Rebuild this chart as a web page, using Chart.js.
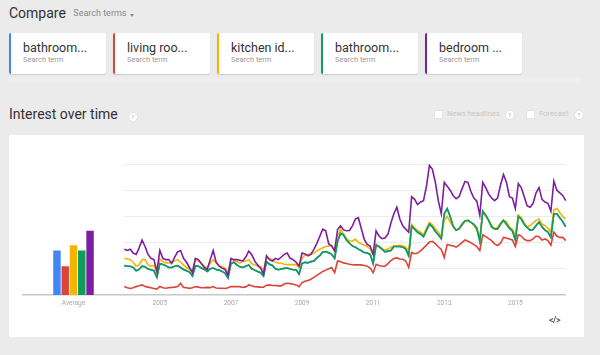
<!DOCTYPE html>
<html>
<head>
<meta charset="utf-8">
<script src="https://cdn.jsdelivr.net/npm/chart.js@4.4.1/dist/chart.umd.min.js"></script>
<style>
html,body{margin:0;padding:0;}
body{width:600px;height:355px;background:#ebebeb;position:relative;overflow:hidden;font-family:Roboto,"Liberation Sans",Arial,sans-serif;}
.abs{position:absolute;white-space:nowrap;line-height:1;}
.card{position:absolute;top:33px;width:95px;height:41px;background:#fff;border-left:2px solid #000;border-radius:2px;box-shadow:0 1px 1px rgba(0,0,0,0.13);}
.card .t{position:absolute;left:12px;top:8.5px;font-size:12.5px;color:#333;line-height:1;}
.card .s{position:absolute;left:12px;top:22.7px;font-size:7.5px;color:#9a9a9a;line-height:1;}
.q{position:absolute;width:8px;height:8px;border-radius:50%;background:#fff;border:1px solid #e2e2e2;color:#c4c4c4;font-size:6px;line-height:8px;text-align:center;font-weight:bold;}
.cb{position:absolute;top:110px;width:7px;height:7px;background:#fff;border:1px solid #e4e4e4;}
.lbl{position:absolute;top:110.3px;font-size:7.5px;color:#c8c8c8;line-height:1;}
canvas{position:absolute;left:0;top:0;}
</style>
</head>
<body>
<div class="abs" style="left:9px;top:6.2px;font-size:14px;color:#333;">Compare</div>
<div class="abs" style="left:73.3px;top:9.1px;font-size:9px;color:#8a8a8a;">Search terms</div>
<div class="abs" style="left:129.5px;top:13.5px;width:0;height:0;border-left:2.7px solid transparent;border-right:2.7px solid transparent;border-top:3px solid #888;"></div>
<div id="cards"></div>
<div class="abs" style="left:9px;top:78px;width:572px;height:5px;background:#eeeeee;"></div>
<div class="abs" style="left:9px;top:107.2px;font-size:14px;color:#333;">Interest over time</div>
<div class="q" style="left:127.8px;top:112.2px;">?</div>
<div class="cb" style="left:434px;"></div>
<div class="lbl" style="left:447px;">News headlines</div>
<div class="q" style="left:504.5px;top:109.5px;">?</div>
<div class="cb" style="left:526px;"></div>
<div class="lbl" style="left:539px;">Forecast</div>
<div class="q" style="left:573.8px;top:109.5px;">?</div>
<div class="abs" style="left:9px;top:135px;width:575px;height:202px;background:#fff;"></div>
<canvas id="bars" width="600" height="355"></canvas>
<canvas id="lines" width="600" height="355"></canvas>
<div class="abs" style="left:549px;top:316px;font-size:9px;color:#555;font-weight:bold;letter-spacing:-0.5px;">&lt;/&gt;</div>
<script>
// ---- data ----
const terms = ['bathroom...', 'living roo...', 'kitchen id...', 'bathroom...', 'bedroom ...'];
const termColors = ['#4285f4', '#db4437', '#f4b400', '#0f9d58', '#7b1fa2'];
const averageLabel = ['Average'];
const averages = [34, 22, 38, 34, 49];
const tickYears = ['2005', '2007', '2009', '2011', '2013', '2015'];
const startYear = 2004;

const seriesRed = [
  6.5, 5.5, 5, 5.5, 6.4, 7, 7.7, 6.5, 6, 5.5, 5, 4.5,
  6.5, 5.5, 5.2, 5.5, 5.8, 6, 6.5, 9, 5.8, 5.5, 5.1, 5.5,
  6.4, 6, 5.5, 5.6, 5.8, 5.6, 6.4, 5.4, 5.2, 5.1, 5, 5.5,
  6.4, 6.4, 6.4, 6.4, 5.8, 6.2, 7.7, 7, 6.4, 6.2, 6, 5.9,
  7.5, 7.7, 7.3, 7.2, 7, 7, 8.5, 9, 8.7, 8.2, 7.7, 6.4,
  9.5, 10.5, 11, 12, 13.5, 15, 16.5, 18, 19, 20, 21, 17,
  26, 25.5, 24.5, 24, 23.5, 23.2, 23, 23, 23, 22.5, 22, 20.5,
  17, 23.5, 22.5, 22, 22, 24, 26.3, 27.8, 28.3, 27.5, 27.3, 26,
  21, 32.5, 31.5, 32, 33.7, 35.8, 38.1, 40.4, 41, 39.2, 36.8, 34.8,
  28.6, 38.5, 38, 37.5, 36.5, 38, 40, 42, 41, 40, 38.5, 37,
  34, 46, 44.5, 43, 41.5, 39, 37.8, 39.5, 44, 43.5, 42.8, 42,
  37, 46, 45, 42.5, 41.5, 41.5, 42.8, 45, 44.5, 42, 42.8, 41.5,
  38, 48, 45, 44, 44, 41.5
];
const seriesYellow = [
  28, 27.5, 27, 25, 22, 23, 27, 27, 23, 22, 22.5, 17,
  27.5, 25.5, 24.5, 24.4, 25, 26, 27, 25, 23, 21, 19.5, 18.5,
  27, 26, 24, 22, 21, 24, 27, 24.5, 22.5, 21.5, 20.5, 17,
  27, 26.5, 25.5, 24.4, 25.7, 26, 27, 24, 23, 22, 21.5, 19,
  28, 28, 27, 25, 24.5, 24.4, 23.5, 23.2, 23.2, 23.2, 23.2, 21,
  28, 30.5, 31, 31, 32, 33.5, 35, 36, 37, 37.4, 37.4, 33,
  45, 50, 46.5, 43, 41.2, 41.2, 42.5, 40.4, 38.9, 38.1, 37.1, 35,
  31, 39, 37, 35, 34.5, 35, 36.5, 37.6, 37.6, 38, 37.6, 36.5,
  33, 53.8, 51.3, 49.2, 47.9, 45.9, 50.8, 55.4, 53.8, 50.5, 47.9, 44.8,
  57, 60, 55.6, 52, 49.5, 50.5, 53, 56, 57, 55.5, 53, 49.5,
  43, 63, 60, 57, 53, 50.5, 51.5, 55, 57, 56, 52, 50,
  46, 61, 59, 55, 52, 53, 55, 57, 58, 54, 53, 51,
  48, 65, 66, 63, 60, 58
];
const seriesGreen = [
  22.4, 22, 21.9, 21, 18.5, 19.5, 22, 21.5, 19.8, 19.3, 18.5, 13.5,
  24, 23.2, 22.4, 21, 21, 21.9, 22.4, 21, 19.5, 18.5, 17.5, 14.5,
  22.4, 22, 20.6, 19.5, 18, 20, 20.6, 19.5, 19, 18, 16.7, 13,
  24, 25, 23, 21.5, 21, 22, 23, 20, 19, 18, 17, 14.5,
  25.5, 23.5, 22.5, 20, 19.3, 19.8, 20.3, 20.6, 19.8, 19.3, 19.3, 16,
  24, 25, 24.5, 25.5, 26, 28.3, 30, 33, 33, 32.2, 31, 28,
  41, 47, 46, 42, 39.5, 37.5, 36.5, 35, 33.8, 32.5, 32, 31,
  24, 38, 37, 35, 33, 33.5, 34, 37, 37, 37, 36.5, 35,
  30, 52.5, 50.3, 47.9, 46.6, 44.6, 49.5, 54.1, 52, 48.5, 46, 43,
  62, 66, 60, 52.5, 49.5, 50.5, 54, 56.5, 57, 55.5, 54, 51,
  41, 64, 61, 57, 52, 50.5, 50.5, 54, 57, 54, 51, 49,
  42, 60, 58, 54, 51.5, 49.5, 50, 53, 55.6, 52, 49.5, 48,
  44, 62, 62, 59, 56, 52
];
// the blue series is not visible in the reference: it lies exactly under the green one
const seriesBlue = seriesGreen;
const seriesPurple = [
  35, 34, 35, 32, 31, 36, 42, 37, 31, 28, 27, 18,
  34, 28, 27, 27, 24, 29, 33, 34, 28, 25, 21, 17,
  28, 27, 24, 21, 19.5, 27, 34, 25, 22, 20.5, 19.5, 15,
  28, 27, 27, 26.5, 26, 29, 33.5, 31, 26, 23, 20.5, 16,
  30, 27, 26, 28, 27, 29, 31, 32, 28, 27, 25, 22,
  32, 31.4, 29.9, 31.2, 34.8, 39.4, 44.8, 50.2, 49, 39, 37.6, 33.8,
  50, 52.8, 49.7, 49, 49.2, 52.8, 58, 59, 50.8, 42.5, 38.6, 37.4,
  31, 49, 45, 43, 43.5, 46.5, 55, 62, 67, 58, 52.8, 50.3,
  47.9, 75, 73, 69, 71, 72, 83, 99, 96, 86, 72, 62,
  86, 83, 80, 76, 73.5, 75, 81, 86.6, 86, 79, 74, 71.6,
  61, 86, 82, 77, 74, 72, 74, 84, 92, 86, 75, 74,
  66, 85, 82, 75, 68, 67, 70, 78, 82, 73, 71, 70,
  64, 87, 80, 78, 76, 72
];

// month categories Jan 2004 ...
const months = [];
for (let i = 0; i < seriesPurple.length; i++) {
  const y = startYear + Math.floor(i / 12);
  const m = (i % 12) + 1;
  months.push(y + '-' + (m < 10 ? '0' + m : m));
}

Chart.defaults.font.family = 'Roboto, "Liberation Sans", Arial, sans-serif';
const tickFont = { size: 6.5, lineHeight: 1.2 };
const tickColor = '#a8a8a8';
const padTop = 164, padBottom = 44.2;

// ---- average bars ----
new Chart(document.getElementById('bars'), {
  type: 'bar',
  data: {
    labels: averageLabel,
    datasets: terms.map((t, k) => ({
      label: t,
      data: [averages[k]],
      backgroundColor: termColors[k],
      borderWidth: 0,
      categoryPercentage: 0.407,
      barPercentage: 0.9
    }))
  },
  options: {
    responsive: false, animation: false, devicePixelRatio: 1,
    layout: { padding: { left: 22.7, right: 600 - 124.3, top: padTop, bottom: padBottom } },
    plugins: { legend: { display: false }, tooltip: { enabled: false } },
    scales: {
      y: { display: false, min: 0, max: 100 },
      x: {
        grid: { display: false, drawTicks: false },
        border: { color: '#c8c8c8', width: 1.5 },
        ticks: { color: tickColor, font: tickFont, padding: 4, maxRotation: 0 }
      }
    }
  }
});

// ---- interest over time ----
const lineSets = [
  { data: seriesBlue, color: termColors[0], order: 4 },
  { data: seriesRed, color: termColors[1], order: 3 },
  { data: seriesYellow, color: termColors[2], order: 2 },
  { data: seriesGreen, color: termColors[3], order: 1 },
  { data: seriesPurple, color: termColors[4], order: 0 }
];
new Chart(document.getElementById('lines'), {
  type: 'line',
  data: {
    labels: months,
    datasets: lineSets.map((s, k) => ({
      label: terms[k],
      data: s.data,
      borderColor: s.color,
      borderWidth: 1.6,
      pointRadius: 0,
      tension: 0,
      fill: false,
      order: s.order
    }))
  },
  options: {
    responsive: false, animation: false, devicePixelRatio: 1,
    layout: { padding: { left: 124.3, right: 600 - 565.7, top: padTop, bottom: padBottom } },
    plugins: { legend: { display: false }, tooltip: { enabled: false } },
    scales: {
      y: {
        min: 0, max: 100,
        ticks: { display: false, stepSize: 20 },
        grid: { drawTicks: false, color: (c) => (c.tick && c.tick.value === 0) ? 'rgba(0,0,0,0)' : '#ececec', lineWidth: 1 },
        border: { display: false }
      },
      x: {
        grid: { display: false, drawTicks: false },
        border: { color: '#c8c8c8', width: 1.5 },
        ticks: {
          color: tickColor, font: tickFont, padding: 4,
          autoSkip: false, maxRotation: 0, minRotation: 0,
          callback: function (v, i) {
            const parts = months[i].split('-');
            return (parts[1] === '01' && tickYears.indexOf(parts[0]) >= 0) ? parts[0] : '';
          }
        }
      }
    }
  }
});

// ---- term cards ----
const cards = document.getElementById('cards');
terms.forEach((t, k) => {
  const c = document.createElement('div');
  c.className = 'card';
  c.style.left = (9 + 104 * k) + 'px';
  c.style.borderLeftColor = termColors[k];
  c.innerHTML = '<div class="t">' + t + '</div><div class="s">Search term</div>';
  cards.appendChild(c);
});
</script>
</body>
</html>
